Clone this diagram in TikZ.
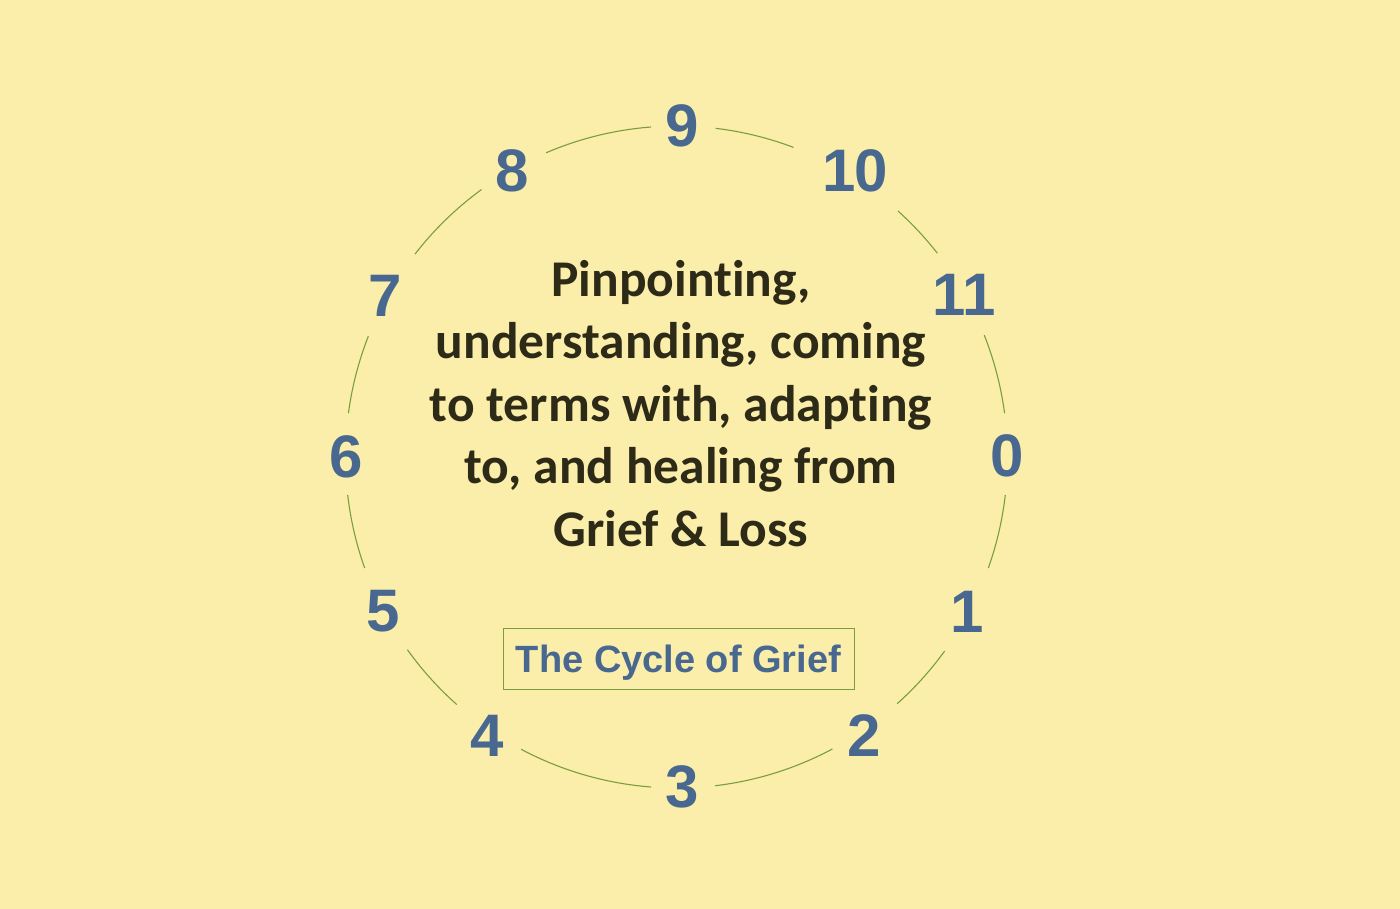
\documentclass[tikz,border=0pt]{standalone}
\usepackage{fontspec}
\newfontfamily\numfont{Liberation Sans}
\newfontfamily\calfont{Carlito}[Ligatures=NoCommon]
\definecolor{bgc}{HTML}{FBEEAA}
\definecolor{numc}{HTML}{486890}
\definecolor{ringc}{HTML}{7A9E3E}
\definecolor{txtc}{HTML}{2D2A18}
\tikzset{
  num/.style={font=\numfont\bfseries\fontsize{60}{60}\selectfont, text=numc,
    inner sep=0pt, text height=43pt, text depth=0pt},
  ring/.style={draw=ringc, line width=1.1pt},
  titlebox/.style={draw=ringc, line width=1pt, minimum width=351pt, minimum height=61pt,
    inner sep=0pt, text height=27pt, text depth=0pt, text=numc,
    font=\numfont\bfseries\fontsize{38}{38}\selectfont},
  maintext/.style={align=center, text=txtc, inner sep=0pt,
    font=\calfont\bfseries\fontsize{51.5}{62.5}\selectfont}
}
\begin{document}
\begin{tikzpicture}[x=1pt,y=1pt]
\fill[bgc] (0,0) rectangle (1400,-909);
\useasboundingbox (0,0) rectangle (1400,-909);
\coordinate (C) at (676.5,-457);
% numbers
\node[num] (n0) at (1007,-455) {0};
\node[num] (n1) at (967,-611) {1};
\node[num] (n2) at (864.5,-734.5) {2};
\node[num] (n3) at (682.5,-786) {3};
\node[num] (n4) at (487.5,-734.5) {4};
\node[num] (n5) at (383.5,-610) {5};
\node[num] (n6) at (346.5,-456) {6};
\node[num] (n7) at (385,-295) {7};
\node[num] (n8) at (512.5,-170) {8};
\node[num] (n9) at (682.5,-125.5) {9};
\node[num] (n10) at (855,-170) {1\kern-2pt0};
\node[num] (n11) at (964,-294.5) {1\kern-3pt1};
% ring segments
\foreach \a/\b in {83.2/69.3, 48.0/38.0, 21.6/7.6, -6.6/-19.6, -35.9/-48.2, -61.9/-83.3,
  -94.4/-118.0, -131.6/-144.4, -160.4/-173.4, 172.4/158.6, 142.2/126.1, 113.2/94.4}
  \draw[ring] ([shift={(\a:331pt)}]C) arc[start angle=\a, end angle=\b, radius=331pt];
% central text
\node[maintext] (main) at (681,-403.5) {Pinpointing,\\understanding, coming\\to terms with, adapting\\to, and healing from\\Grief \& Loss};
% title box
\node[titlebox] (title) at (678.5,-658.5) {The Cycle of Grief};
\end{tikzpicture}
\end{document}
